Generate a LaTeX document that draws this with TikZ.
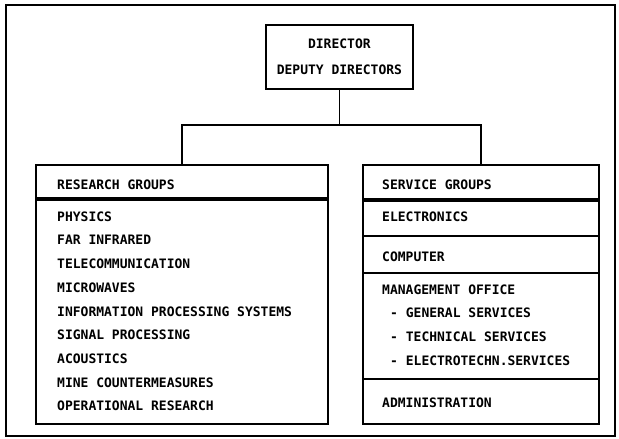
\documentclass[tikz,border=0pt]{standalone}
\usepackage{fontspec}
\setmonofont{DejaVu Sans Mono}
\usetikzlibrary{positioning}

\tikzset{
  frame/.style={draw,line width=1.8pt,inner sep=0pt},
  item/.style={anchor=west,inner sep=0pt,text height=9.5pt,text depth=0pt},
  sep/.style={line width=1.5pt},
  thicksep/.style={line width=3.2pt}
}

\begin{document}
\begin{tikzpicture}[x=1pt,y=-1pt,font=\ttfamily\bfseries\fontsize{13}{26}\selectfont]

\useasboundingbox (0,0) rectangle (619,439);
\draw[line width=1.8pt] (6,5) rectangle (615,436);

% director box
\node[frame,minimum width=147pt,minimum height=64pt,anchor=north west,align=center]
  (dir) at (265,24) {DIRECTOR\\DEPUTY DIRECTORS};

% group boxes
\node[frame,minimum width=292pt,minimum height=259pt,anchor=north west] (rg) at (35,164) {};
\node[frame,minimum width=236pt,minimum height=259pt,anchor=north west] (sg) at (362,164) {};

\coordinate (bus) at (dir.south |- 0,125);
\draw[line width=1.6pt] (dir.south) -- (bus);
\draw[line width=1.6pt] (rg.north) |- (bus) -| (sg.north);

% research groups
\node[item] (rhead) at (57,184.5) {RESEARCH GROUPS};
\draw[thicksep] (rg.west |- 0,199) -- (rg.east |- 0,199);
\def\rlist{1/{PHYSICS},2/{FAR INFRARED},3/{TELECOMMUNICATION},4/{MICROWAVES},%
  5/{INFORMATION PROCESSING SYSTEMS},6/{SIGNAL PROCESSING},7/{ACOUSTICS},%
  8/{MINE COUNTERMEASURES},9/{OPERATIONAL RESEARCH}}
\foreach \i / \element in \rlist
  \node[item] (r\i) at (57,{216.5+23.7*(\i-1)}) {\element};

% service groups
\node[item] (shead) at (382,184.5) {SERVICE GROUPS};
\draw[thicksep] (sg.west |- 0,200) -- (sg.east |- 0,200);
\node[item] (s1) at (382,216.5) {ELECTRONICS};
\draw[sep] (sg.west |- 0,236) -- (sg.east |- 0,236);
\node[item] (s2) at (382,256.5) {COMPUTER};
\draw[sep] (sg.west |- 0,273) -- (sg.east |- 0,273);
\node[item] (s3) at (382,290) {MANAGEMENT OFFICE};
\def\slist{1/{GENERAL SERVICES},2/{TECHNICAL SERVICES},3/{ELECTROTECHN.SERVICES}}
\foreach \i / \element in \slist
  \node[item] (m\i) at (390,{313+24*(\i-1)}) {- \element};
\draw[sep] (sg.west |- 0,379) -- (sg.east |- 0,379);
\node[item] (s4) at (382,403) {ADMINISTRATION};

\end{tikzpicture}
\end{document}
